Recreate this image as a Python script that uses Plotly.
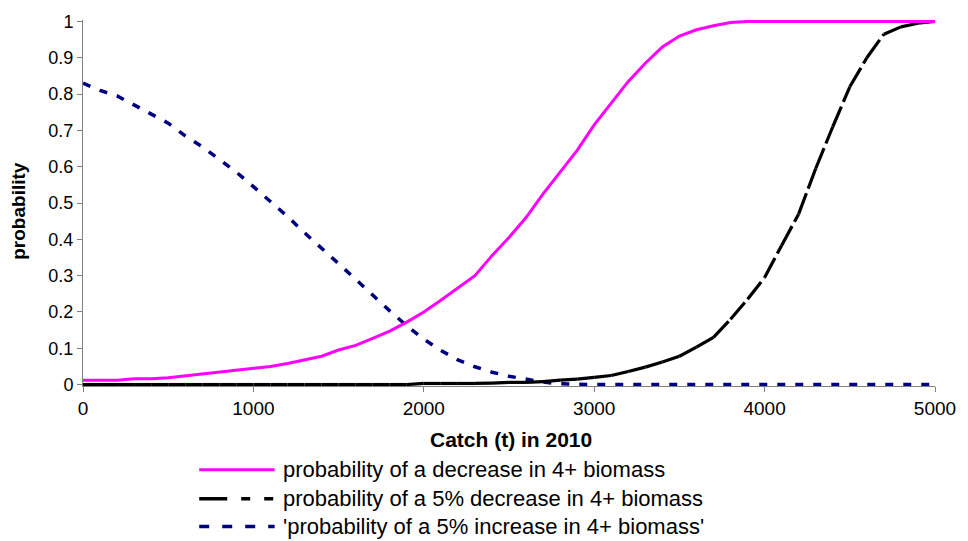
import plotly.graph_objects as go

# Catch levels (t) in 2010
catch = list(range(0, 5001, 100))

# Probability of a decrease in 4+ biomass
p_decrease = [0.012, 0.012, 0.012, 0.016, 0.016, 0.019, 0.024, 0.029, 0.033, 0.038,
              0.043, 0.050, 0.058, 0.068, 0.078, 0.095, 0.108, 0.127, 0.147, 0.172,
              0.200, 0.232, 0.265, 0.300, 0.355, 0.405, 0.460, 0.525, 0.585, 0.645,
              0.715, 0.775, 0.835, 0.885, 0.930, 0.960, 0.977, 0.988, 0.997, 1.0,
              1.0, 1.0, 1.0, 1.0, 1.0, 1.0, 1.0, 1.0, 1.0, 1.0, 1.0]

# Probability of a 5% decrease in 4+ biomass
p_decrease5 = [0, 0, 0, 0, 0, 0, 0, 0, 0, 0,
               0, 0, 0, 0, 0, 0, 0, 0, 0, 0,
               0.003, 0.003, 0.003, 0.003, 0.004, 0.006, 0.006, 0.008, 0.012, 0.015,
               0.020, 0.025, 0.036, 0.048, 0.062, 0.078, 0.103, 0.130, 0.180, 0.235,
               0.295, 0.383, 0.470, 0.595, 0.710, 0.820, 0.900, 0.965, 0.985, 0.995, 1.0]

# Probability of a 5% increase in 4+ biomass
p_increase5 = [0.830, 0.810, 0.795, 0.770, 0.745, 0.720, 0.685, 0.655, 0.620, 0.585,
               0.545, 0.505, 0.463, 0.418, 0.377, 0.333, 0.290, 0.245, 0.203, 0.162,
               0.125, 0.094, 0.068, 0.049, 0.034, 0.023, 0.014, 0.007, 0.002, 0,
               0, 0, 0, 0, 0, 0, 0, 0, 0, 0,
               0, 0, 0, 0, 0, 0, 0, 0, 0, 0, 0]

series_names = ["probability of a decrease in 4+ biomass",
                "probability of a 5% decrease in 4+ biomass",
                "'probability of a 5% increase in 4+ biomass'"]

x_ticks = [0, 1000, 2000, 3000, 4000, 5000]
y_ticks = [0, 0.1, 0.2, 0.3, 0.4, 0.5, 0.6, 0.7, 0.8, 0.9, 1]
y_tick_text = ["0", "0.1", "0.2", "0.3", "0.4", "0.5", "0.6", "0.7", "0.8", "0.9", "1"]

FONT = "Liberation Sans, Arial, sans-serif"
MAGENTA, BLACK, NAVY = "#FF00FF", "#000000", "#000080"

fig = go.Figure()

# 5% increase: short navy dashes
fig.add_trace(go.Scatter(
    x=catch, y=p_increase5, mode="lines", name=series_names[2],
    line=dict(color=NAVY, width=3.5, dash="8px,10px"),
    showlegend=False, hoverinfo="skip",
))

# 5% decrease: long dashes, the pattern restarting on every segment so that
# short flat segments read as solid and steep ones break into dashes
for i in range(len(catch) - 1):
    fig.add_trace(go.Scatter(
        x=catch[i:i + 2], y=p_decrease5[i:i + 2], mode="lines",
        name=series_names[1],
        line=dict(color=BLACK, width=3.2, dash="22px,5px"),
        showlegend=False, hoverinfo="skip",
    ))

# decrease: solid magenta
fig.add_trace(go.Scatter(
    x=catch, y=p_decrease, mode="lines", name=series_names[0],
    line=dict(color=MAGENTA, width=3),
    showlegend=False, hoverinfo="skip",
))

# Legend block beneath the x-axis title: line sample + label per series
legend_styles = [
    dict(color=MAGENTA, width=3, dash="solid"),
    dict(color=BLACK, width=3.5, dash="28px,14px,9px,14px,9px"),
    dict(color=NAVY, width=3.5, dash="10px,13px"),
]
legend_rows_y = [-0.2289, -0.3079, -0.3842]
for i, name in enumerate(series_names):
    fig.add_shape(type="line", xref="paper", yref="paper",
                  x0=0.1364, x1=0.2249, y0=legend_rows_y[i], y1=legend_rows_y[i],
                  line=legend_styles[i])
    fig.add_annotation(xref="paper", yref="paper", x=0.2327, y=legend_rows_y[i],
                       text=name, showarrow=False, xanchor="left", yanchor="middle",
                       font=dict(family=FONT, size=22, color="#000000"))

# Axis titles
fig.add_annotation(xref="paper", yref="paper", x=0.502, y=-0.147,
                   text="<b>Catch (t) in 2010</b>", showarrow=False,
                   xanchor="center", yanchor="middle",
                   font=dict(family=FONT, size=21, color="#000000"))
fig.add_annotation(xref="paper", yref="paper", x=-0.0758, y=0.48,
                   text="<b>probability</b>", showarrow=False, textangle=-90,
                   xanchor="center", yanchor="middle",
                   font=dict(family=FONT, size=19, color="#000000"))

fig.update_layout(
    width=968, height=541,
    margin=dict(l=83, r=27, t=19, b=155),
    paper_bgcolor="#FFFFFF", plot_bgcolor="#FFFFFF",
    font=dict(family=FONT, color="#000000"),
    xaxis=dict(
        range=[0, 5000], tickvals=x_ticks, ticktext=[str(v) for v in x_ticks],
        showgrid=False, zeroline=False, showline=True, linecolor="#808080", linewidth=1,
        ticks="outside", ticklen=5, tickcolor="#808080",
        tickfont=dict(family=FONT, size=19),
    ),
    yaxis=dict(
        range=[-0.004, 1.004], tickvals=y_ticks, ticktext=y_tick_text,
        showgrid=False, zeroline=False, showline=True, linecolor="#808080", linewidth=1,
        ticks="outside", ticklen=5, tickcolor="#808080",
        tickfont=dict(family=FONT, size=18),
    ),
)

fig.write_html("out.html")
